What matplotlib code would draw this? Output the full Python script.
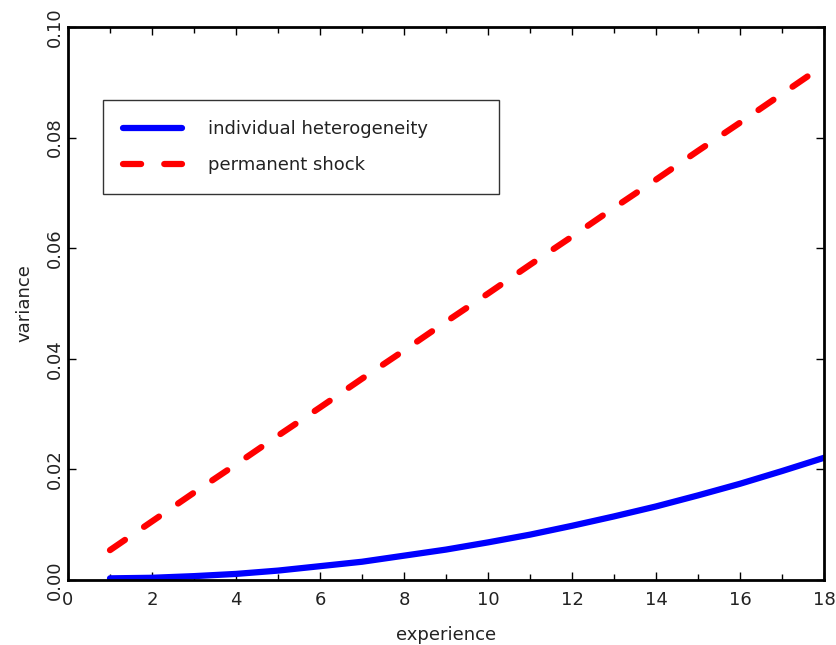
import matplotlib
matplotlib.use("Agg")
import matplotlib.pyplot as plt
from matplotlib.ticker import MultipleLocator

experience = list(range(1, 19))
heterogeneity = [0.0003, 0.0004, 0.0007, 0.0011, 0.0017, 0.0025, 0.0033, 0.0044,
                 0.0055, 0.0068, 0.0082, 0.0098, 0.0115, 0.0133, 0.0153, 0.0174,
                 0.0197, 0.0221]
permanent = [0.0054, 0.0106, 0.0158, 0.0209, 0.0261, 0.0312, 0.0364, 0.0415,
             0.0467, 0.0518, 0.0570, 0.0621, 0.0673, 0.0724, 0.0776, 0.0827,
             0.0879, 0.0931]
x_ticks = [0, 2, 4, 6, 8, 10, 12, 14, 16, 18]
y_ticks = [0.00, 0.02, 0.04, 0.06, 0.08, 0.10]
y_tick_labels = ["0.00", "0.02", "0.04", "0.06", "0.08", "0.10"]

plt.rcParams['font.family'] = ['DejaVu Sans']
txt = '#222222'

fig = plt.figure(figsize=(8.37, 6.45), dpi=100)
ax = fig.add_axes([68/837, 1-580/645, (824-68)/837, (580-27)/645])

ax.plot(experience, heterogeneity, color='#0000ff', lw=4.5,
        solid_capstyle='round', label='individual heterogeneity')
ax.plot(experience, permanent, color='#ff0000', lw=4.5, dashes=[2.9, 3.7],
        dash_capstyle='round', label='permanent shock')

ax.set_xlim(0, 18)
ax.set_ylim(0, 0.10)
ax.set_xticks(x_ticks)
ax.xaxis.set_minor_locator(MultipleLocator(1))
ax.set_yticks(y_ticks)
ax.set_yticklabels(y_tick_labels, rotation=90, va='center')
ax.tick_params(which='both', direction='in', top=True, right=True,
               labelsize=13, colors='black', labelcolor=txt)
ax.tick_params(which='major', length=6, width=1)
ax.tick_params(which='minor', length=4, width=1)
ax.tick_params(axis='x', pad=8)
ax.tick_params(axis='y', pad=3)
for s in ax.spines.values():
    s.set_linewidth(2)

ax.set_xlabel('experience', fontsize=13, color=txt, labelpad=12)
ax.set_ylabel('variance', fontsize=13, color=txt, labelpad=9)

lx0 = (103 - 68) / 756
lx1 = (499 - 68) / 756
ly1 = (580 - 100) / 553
leg = ax.legend(loc='upper left', bbox_to_anchor=(lx0, 0, lx1 - lx0, ly1),
                mode='expand', fontsize=13, handlelength=3.3, handletextpad=1.4,
                borderpad=1.1, labelspacing=1.0, fancybox=False,
                frameon=True, borderaxespad=0)
leg.get_frame().set_edgecolor('black')
leg.get_frame().set_linewidth(1)
for t in leg.get_texts():
    t.set_color(txt)

fig.savefig('out.png', dpi=100)
